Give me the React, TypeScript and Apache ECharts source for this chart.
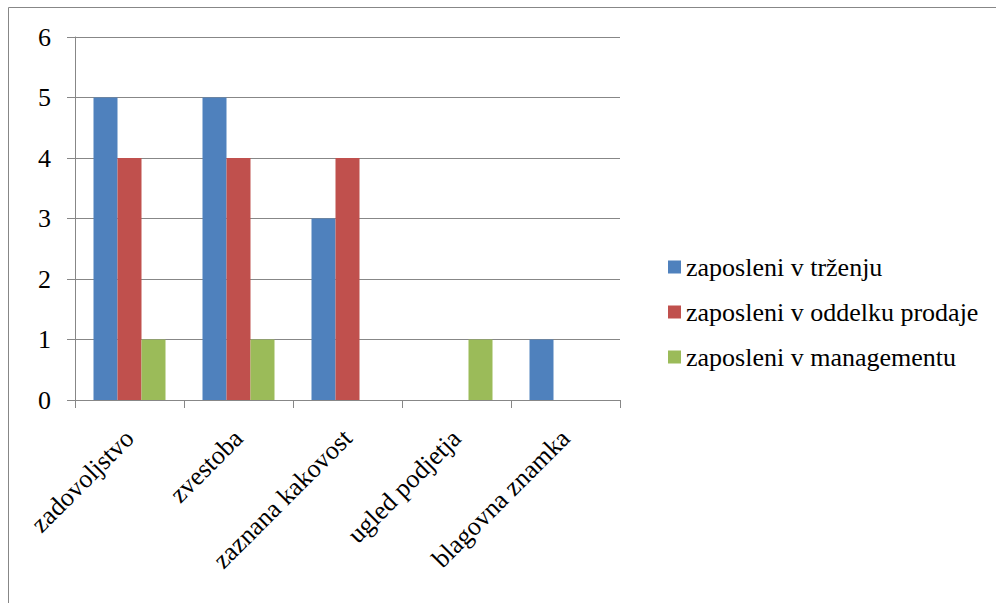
import React, { useEffect, useRef } from "react";
import * as echarts from "echarts";

const categories = [
  "zadovoljstvo",
  "zvestoba",
  "zaznana kakovost",
  "ugled podjetja",
  "blagovna znamka",
];
const trzenje = [5, 5, 3, 0, 1];
const prodaja = [4, 4, 4, 0, 0];
const management = [1, 1, 0, 1, 0];
const yTicks = [0, 1, 2, 3, 4, 5, 6];

const FONT = "Liberation Serif, Times New Roman, serif";
const FONT_SIZE = 26;
const GRID_COLOR = "#878787";

export default function App() {
  const ref = useRef<HTMLDivElement>(null);

  useEffect(() => {
    if (!ref.current) return;
    const chart = echarts.init(ref.current, undefined, { renderer: "svg" });
    const bar = (name: string, data: number[], color: string) => ({
      name,
      type: "bar",
      data,
      barWidth: 24,
      barGap: "0%",
      itemStyle: { color },
    });
    chart.setOption({
      animation: false,
      backgroundColor: "#ffffff",
      textStyle: { fontFamily: FONT, fontSize: FONT_SIZE },
      graphic: [
        {
          type: "rect",
          shape: { x: 8.5, y: 7.5, width: 1000, height: 700 },
          style: { fill: "none", stroke: GRID_COLOR, lineWidth: 1 },
          silent: true,
          z: -1,
        },
      ],
      grid: { left: 75, right: 376, top: 37, bottom: 203, containLabel: false },
      legend: {
        orient: "vertical",
        left: 663,
        top: 247,
        icon: "rect",
        itemWidth: 13,
        itemHeight: 13,
        itemGap: 15,
        textStyle: {
          fontFamily: FONT,
          fontSize: FONT_SIZE,
          color: "#000",
          lineHeight: 30,
        },
        data: [
          "zaposleni v trženju",
          "zaposleni v oddelku prodaje",
          "zaposleni v managementu",
        ],
      },
      xAxis: {
        type: "category",
        data: categories,
        axisLine: { lineStyle: { color: GRID_COLOR } },
        axisTick: { show: true, length: 8, lineStyle: { color: GRID_COLOR } },
        axisLabel: {
          rotate: 45,
          interval: 0,
          margin: 34,
          fontFamily: FONT,
          fontSize: FONT_SIZE,
          color: "#000",
        },
      },
      yAxis: {
        type: "value",
        min: yTicks[0],
        max: yTicks[yTicks.length - 1],
        interval: 1,
        axisLine: { show: true, lineStyle: { color: GRID_COLOR } },
        axisTick: { show: true, length: 8, lineStyle: { color: GRID_COLOR } },
        splitLine: { lineStyle: { color: GRID_COLOR } },
        axisLabel: {
          margin: 24,
          fontFamily: FONT,
          fontSize: FONT_SIZE,
          color: "#000",
        },
      },
      series: [
        bar("zaposleni v trženju", trzenje, "#4F81BD"),
        bar("zaposleni v oddelku prodaje", prodaja, "#C0504D"),
        bar("zaposleni v managementu", management, "#9BBB59"),
      ],
    });
    return () => chart.dispose();
  }, []);

  return (
    <div
      ref={ref}
      style={{ position: "fixed", left: 0, top: 0, width: 996, height: 603, background: "#fff" }}
    />
  );
}
